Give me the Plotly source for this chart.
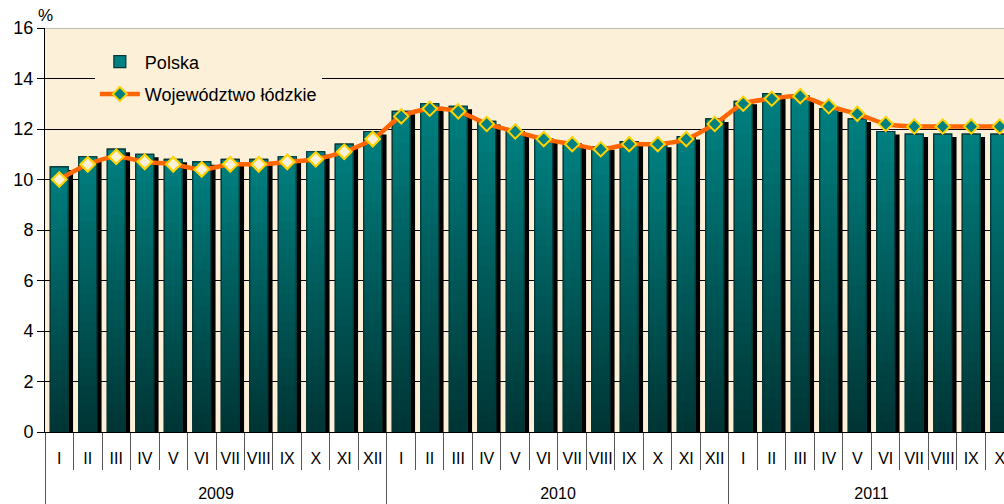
import plotly.graph_objects as go

years = ["2009"] * 12 + ["2010"] * 12 + ["2011"] * 10
months = ["I", "II", "III", "IV", "V", "VI", "VII", "VIII", "IX", "X", "XI", "XII"] * 2 + \
         ["I", "II", "III", "IV", "V", "VI", "VII", "VIII", "IX", "X"]
polska = [10.5, 10.9, 11.2, 11.0, 10.8, 10.7, 10.8, 10.8, 10.9, 11.1, 11.4, 11.9,
          12.7, 13.0, 12.9, 12.3, 11.9, 11.6, 11.4, 11.3, 11.5, 11.4, 11.7, 12.4,
          13.1, 13.4, 13.3, 12.8, 12.4, 11.9, 11.8, 11.8, 11.8, 11.8]
lodzkie = [10.0, 10.6, 10.9, 10.7, 10.6, 10.4, 10.6, 10.6, 10.7, 10.8, 11.1, 11.6,
           12.5, 12.8, 12.7, 12.2, 11.9, 11.6, 11.4, 11.2, 11.4, 11.4, 11.6, 12.2,
           13.0, 13.2, 13.3, 12.9, 12.6, 12.2, 12.1, 12.1, 12.1, 12.1]

pos = list(range(len(months)))
year_names = sorted(set(years))
year_centers = [sum(p for p, y in zip(pos, years) if y == yn) /
                sum(1 for y in years if y == yn) for yn in year_names]
year_bounds = [pos[0] - 0.5] + [p + 0.5 for p, y, y2 in zip(pos, years, years[1:] + [None]) if y != y2]
month_bounds = [p - 0.5 for p in pos] + [pos[-1] + 0.5]

BG = "#FCF0D8"
TEAL = "#008080"
OUT = "#073535"
BW = 0.63
OFF = -BW / 2
SH_DX = 0.17
SH_DY = 0.12
N = 30
XR = [-0.5, 33.15]

fig = go.Figure()

# shadow
fig.add_trace(go.Bar(x=pos, y=[v - SH_DY for v in polska], width=BW, offset=OFF + SH_DX,
                     marker=dict(color="black", line=dict(width=0)),
                     showlegend=False, hoverinfo="skip", legendgroup="a"))
# base bar (legend)
fig.add_trace(go.Bar(x=pos, y=polska, width=BW, offset=OFF, name="Polska",
                     marker=dict(color=TEAL, line=dict(color=OUT, width=1.2)),
                     legendgroup="a"))
# gradient segments (each reaches the top, so no seams)
top = (0, 128, 128)
bot = (0, 52, 52)
for i in range(N):
    f = (i + 0.5) / N
    c = tuple(int(round(bot[k] + (top[k] - bot[k]) * f)) for k in range(3))
    fig.add_trace(go.Bar(x=pos, y=[v * (1 - i / N) for v in polska],
                         base=[v * i / N for v in polska], width=BW, offset=OFF,
                         marker=dict(color="rgb(%d,%d,%d)" % c, line=dict(width=0)),
                         showlegend=False, hoverinfo="skip", legendgroup="a"))
# outline
fig.add_trace(go.Bar(x=pos, y=polska, width=BW, offset=OFF,
                     marker=dict(color="rgba(0,0,0,0)", line=dict(color=OUT, width=1.2)),
                     showlegend=False, hoverinfo="skip", legendgroup="a"))

# line
fig.add_trace(go.Scatter(x=pos, y=lodzkie, mode="lines+markers", name="Województwo łódzkie",
                         line=dict(color="#FF6600", width=4.5, shape="spline", smoothing=0.8),
                         marker=dict(symbol="diamond", size=11, color=TEAL,
                                     line=dict(color="#FFD200", width=2)),
                         legendgroup="b"))
idx09 = [i for i, y in enumerate(years) if y == "2009"]
fig.add_trace(go.Scatter(x=[pos[i] for i in idx09], y=[lodzkie[i] for i in idx09],
                         mode="markers",
                         marker=dict(symbol="diamond", size=11, color=BG,
                                     line=dict(color="#FFD200", width=2)),
                         showlegend=False, hoverinfo="skip", legendgroup="b"))

# helper traces to activate extra x axes
for ax in ["x2", "x3", "x4"]:
    fig.add_trace(go.Scatter(x=[XR[0]], y=[None], xaxis=ax, yaxis="y",
                             showlegend=False, hoverinfo="skip", mode="markers",
                             legendgroup="b"))

common = dict(range=XR, showgrid=False, zeroline=False, automargin=False)
fig.update_layout(
    width=1004, height=504,
    margin=dict(l=45, r=0, t=28, b=72),
    paper_bgcolor="white", plot_bgcolor=BG,
    barmode="overlay",
    font=dict(family="Liberation Sans, Arial, sans-serif", color="black"),
    showlegend=True,
    legend=dict(x=0.052, y=0.962, xanchor="left", yanchor="top", bgcolor=BG,
                font=dict(size=18), itemwidth=40, tracegroupgap=6,
                traceorder="grouped"),
    xaxis=dict(**common, tickmode="array", tickvals=pos, ticktext=months,
               ticks="", tickfont=dict(size=16), tickangle=0, ticklabeloverflow="allow",
               showline=True, linecolor="black", ticklabelstandoff=12),
    xaxis2=dict(**common, overlaying="x", anchor="y", side="bottom",
                tickmode="array", tickvals=month_bounds, ticks="outside",
                ticklen=37, tickcolor="#555555", tickwidth=1, showticklabels=False),
    xaxis3=dict(**common, overlaying="x", anchor="y", side="bottom",
                tickmode="array", tickvals=year_bounds, ticks="outside",
                ticklen=80, tickcolor="#555555", tickwidth=1, showticklabels=False),
    xaxis4=dict(**common, overlaying="x", anchor="y", side="bottom",
                tickmode="array", tickvals=year_centers, ticktext=year_names,
                ticks="", tickfont=dict(size=16), tickangle=0, ticklabelstandoff=50),
    yaxis=dict(range=[0, 16], dtick=2, ticks="outside", ticklen=7, tickcolor="black",
               showline=True, linecolor="black", linewidth=1, automargin=False,
               showgrid=True, gridcolor="black", gridwidth=1,
               tickfont=dict(size=18), zeroline=False),
    shapes=[dict(type="line", xref="paper", yref="y", x0=0, x1=1, y0=16, y1=16,
                 line=dict(color="#A8A8A8", width=1.5))],
    annotations=[dict(text="%", xref="paper", yref="paper", x=0, y=1.0, xanchor="center",
                      yanchor="bottom", showarrow=False, font=dict(size=17), yshift=1)],
)

fig.write_html("out.html", config={"displayModeBar": False},
               post_script="document.body.style.margin='0';document.body.style.overflow='hidden';")
